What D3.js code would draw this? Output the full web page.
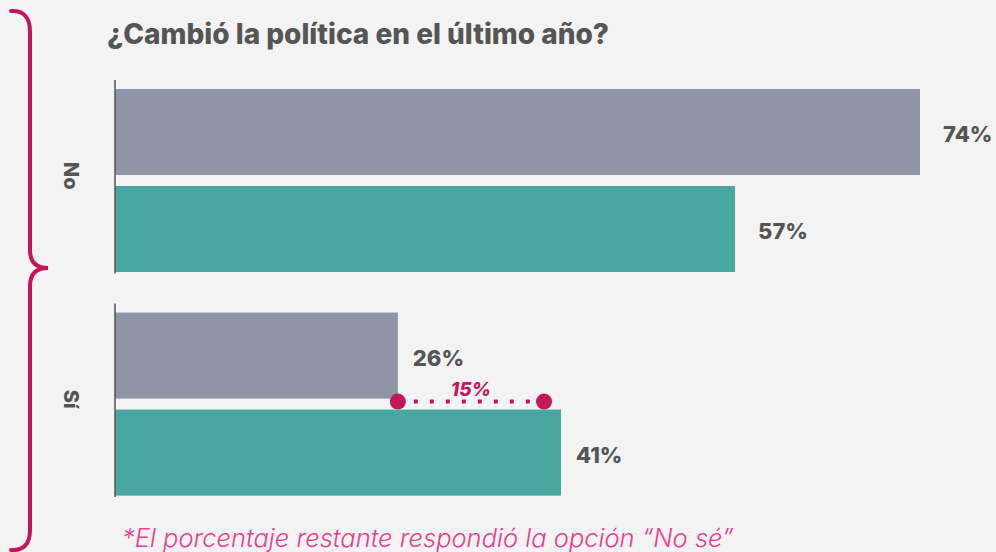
<!DOCTYPE html>
<html>
<head>
<meta charset="utf-8">
<script src="https://cdn.jsdelivr.net/npm/d3@7"></script>
<style>
  body { margin: 0; background: #f3f3f3; }
  svg { display: block; font-family: "Inter", "Open Sans", sans-serif; }
</style>
</head>
<body>
<div id="chart"></div>
<script>
// data
var categories = ["No", "Sí"];
var seriesNames = ["anterior", "actual"];
var grayValues = [74, 26];
var tealValues = [57, 41];
var valueLabels = ["74%", "57%", "26%", "41%"];
var diffLabel = "15%";

var svgWidth = 996;
var svgHeight = 552;

var colors = { anterior: "#8f94a7", actual: "#49a7a1" };
var magenta = "#c2185b";
var textColor = "#555555";

var svg = d3.select("#chart")
  .append("svg")
  .attr("width", svgWidth)
  .attr("height", svgHeight);

svg.append("rect")
  .attr("width", svgWidth)
  .attr("height", svgHeight)
  .attr("fill", "#f3f3f3");

// build rows from the arrays
var rows = categories.map(function(c, i) {
  return { cat: c, anterior: grayValues[i], actual: tealValues[i] };
});

// scales
var x = d3.scaleLinear()
  .domain([0, 74])
  .range([115, 920]);

var y0 = d3.scaleBand()
  .domain(categories)
  .range([80, 497])
  .paddingInner(0.135);

var y1 = d3.scaleBand()
  .domain(seriesNames)
  .range([9, 192])
  .paddingInner(0.113);

// title
svg.append("text")
  .attr("x", 107)
  .attr("y", 44)
  .attr("fill", textColor)
  .style("font-size", "28px")
  .style("font-weight", "800")
  .text("¿Cambió la política en el último año?");

// groups
var groups = svg.selectAll(".grp")
  .data(rows)
  .enter()
  .append("g")
  .attr("class", "grp")
  .attr("transform", d => `translate(0, ${y0(d.cat)})`);

groups.selectAll("rect")
  .data(d => seriesNames.map(s => ({ key: s, value: d[s] })))
  .enter()
  .append("rect")
  .attr("x", x(0))
  .attr("y", d => y1(d.key))
  .attr("width", d => x(d.value) - x(0))
  .attr("height", y1.bandwidth())
  .attr("fill", d => colors[d.key]);

// value labels
groups.selectAll(".val")
  .data((d, gi) => seriesNames.map((s, si) => ({ key: s, value: d[s], label: valueLabels[gi * 2 + si] })))
  .enter()
  .append("text")
  .attr("class", "val")
  .attr("x", d => x(d.value) + (d.value > 50 ? 23 : 15))
  .attr("y", d => y1(d.key) + y1.bandwidth() / 2 + 2)
  .attr("dominant-baseline", "central")
  .attr("fill", textColor)
  .style("font-size", "22px")
  .style("font-weight", "800")
  .text(d => d.label);

// axis lines per group
groups.append("line")
  .attr("x1", x(0))
  .attr("x2", x(0))
  .attr("y1", 0)
  .attr("y2", y0.bandwidth())
  .attr("stroke", textColor)
  .attr("stroke-width", 1.5);

// rotated category labels
groups.append("text")
  .attr("transform", d => `translate(64, ${y0.bandwidth() / 2 - 1}) rotate(90)`)
  .attr("text-anchor", "middle")
  .attr("fill", textColor)
  .style("font-size", "20px")
  .style("font-weight", "800")
  .text(d => d.cat);

// brace on the left
var tipY = 268;
var brace = d3.path();
brace.moveTo(11, 11);
brace.quadraticCurveTo(30, 10, 30, 32);
brace.lineTo(30, tipY - 18);
brace.quadraticCurveTo(30, tipY, 48, tipY);
brace.quadraticCurveTo(30, tipY, 30, tipY + 18);
brace.lineTo(30, 530);
brace.quadraticCurveTo(30, 551, 11, 550);

svg.append("path")
  .attr("d", brace.toString())
  .attr("fill", "none")
  .attr("stroke", magenta)
  .attr("stroke-width", 4)
  .attr("stroke-linecap", "round");

// difference dumbbell for "Sí"
var siTop = y0("Sí");
var dotY = siTop + y1("actual") - 8;
var dx1 = x(grayValues[1]);
var dx2 = x(tealValues[1]) - 17;

svg.append("line")
  .attr("x1", dx1)
  .attr("x2", dx2)
  .attr("y1", dotY)
  .attr("y2", dotY)
  .attr("stroke", magenta)
  .attr("stroke-width", 4)
  .attr("stroke-dasharray", "4 12");

svg.selectAll(".dot")
  .data([dx1, dx2])
  .enter()
  .append("circle")
  .attr("cx", d => d)
  .attr("cy", dotY)
  .attr("r", 8)
  .attr("fill", magenta);

svg.append("text")
  .attr("x", (dx1 + dx2) / 2)
  .attr("y", dotY - 6)
  .attr("text-anchor", "middle")
  .attr("fill", magenta)
  .style("font-size", "19px")
  .style("font-weight", "800")
  .style("font-style", "italic")
  .text(diffLabel);

// footnote
svg.append("text")
  .attr("x", 122)
  .attr("y", 547)
  .attr("fill", "#e8408f")
  .style("font-size", "25.5px")
  .style("font-style", "italic")
  .style("font-weight", "300")
  .text("*El porcentaje restante respondió la opción “No sé”");
</script>
</body>
</html>
